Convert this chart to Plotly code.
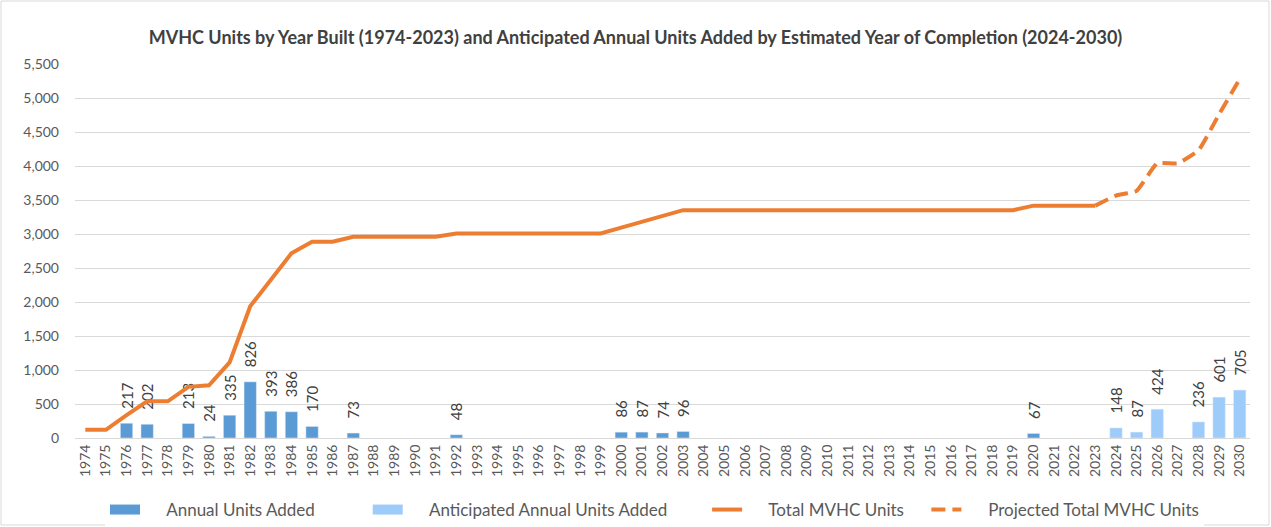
import plotly.graph_objects as go

years = [str(y) for y in range(1974, 2031)]

annual_years = ["1976", "1977", "1979", "1980", "1981", "1982", "1983", "1984", "1985",
                "1987", "1992", "2000", "2001", "2002", "2003", "2020"]
annual_units = [217, 202, 213, 24, 335, 826, 393, 386, 170, 73, 48, 86, 87, 74, 96, 67]

anticip_years = ["2024", "2025", "2026", "2028", "2029", "2030"]
anticip_units = [148, 87, 424, 236, 601, 705]

total_years = [str(y) for y in range(1974, 2024)]
total_units = [120, 120, 337, 539, 539, 752, 776, 1111, 1937, 2330,
               2716, 2886, 2886, 2959, 2959, 2959, 2959, 2959, 3007, 3007,
               3007, 3007, 3007, 3007, 3007, 3007, 3093, 3180, 3254, 3350,
               3350, 3350, 3350, 3350, 3350, 3350, 3350, 3350, 3350, 3350,
               3350, 3350, 3350, 3350, 3350, 3350, 3417, 3417, 3417, 3417]

proj_years = [str(y) for y in range(2023, 2031)]
proj_units = [3417, 3565, 3635, 4040, 4040, 4230, 4760, 5280]

title_text = ("MVHC Units by Year Built (1974-2023) and Anticipated Annual Units Added "
              "by Estimated Year of Completion (2024-2030)")

FONT = "Lato"
GRAY = "#595959"
BLUE = "#5B9BD5"
LIGHT = "#9DCBFA"
ORANGE = "#ED7D31"
PAD = "\u00a0\u00a0\u00a0"
NB = "\u00a0"


def leg(name, trail):
    return NB * 5 + name + NB * trail


fig = go.Figure()
fig.add_trace(go.Bar(
    x=annual_years, y=annual_units, name="Annual Units Added", showlegend=False,
    marker=dict(color=BLUE), width=0.6,
    text=[PAD + str(v) for v in annual_units], textposition="outside", textangle=-90,
    constraintext="none",
    textfont=dict(size=15, color="#404040", family=FONT), cliponaxis=False,
))
fig.add_trace(go.Bar(
    x=anticip_years, y=anticip_units, name="Anticipated Annual Units Added", showlegend=False,
    marker=dict(color=LIGHT), width=0.6,
    text=[PAD + str(v) for v in anticip_units], textposition="outside", textangle=-90,
    constraintext="none",
    textfont=dict(size=15, color="#404040", family=FONT), cliponaxis=False,
))
# legend-only entries (wide swatches like the reference)
fig.add_trace(go.Scatter(x=[None], y=[None], mode="lines", name=leg("Annual Units Added", 11),
                         line=dict(color=BLUE, width=10)))
fig.add_trace(go.Scatter(x=[None], y=[None], mode="lines",
                         name=leg("Anticipated Annual Units Added", 8),
                         line=dict(color=LIGHT, width=10)))
fig.add_trace(go.Scatter(
    x=total_years, y=total_units, name=leg("Total MVHC Units", 4), mode="lines",
    line=dict(color=ORANGE, width=4),
))
fig.add_trace(go.Scatter(
    x=proj_years, y=proj_units, name=leg("Projected Total MVHC Units", 0), mode="lines",
    line=dict(color=ORANGE, width=4, dash="14px,7px", shape="spline", smoothing=0.4),
))

W, H = 1271, 527
L, R, T, B = 75, 21, 64, 89
pw, ph = W - L - R, H - T - B

fig.update_layout(
    width=W, height=H,
    margin=dict(l=L, r=R, t=T, b=B),
    paper_bgcolor="white", plot_bgcolor="white",
    barmode="overlay",
    font=dict(family=FONT, color=GRAY, size=14),
    title=dict(text="<b>" + title_text + "</b>", x=0.5, xanchor="center",
               y=1 - 38 / H, yanchor="middle",
               font=dict(size=18, color="#404040", family=FONT)),
    legend=dict(orientation="h", xref="container", yref="container",
                x=105 / W, xanchor="left", y=1 - 510 / H, yanchor="middle",
                font=dict(size=17, color=GRAY, family=FONT), tracegroupgap=0),
    showlegend=True,
    shapes=[dict(type="rect", xref="paper", yref="paper",
                 x0=(1 - L) / pw, x1=(W - 2 - L) / pw,
                 y0=-(B - 2) / ph, y1=(T - 1) / ph + 1,
                 line=dict(color="#D9D9D9", width=1), layer="below")],
)
fig.update_xaxes(
    type="category", categoryorder="array", categoryarray=years,
    range=[-0.5, len(years) - 0.5], tickangle=-90,
    tickfont=dict(size=14, color=GRAY), showgrid=False, automargin=False,
    showline=True, linecolor="#D9D9D9", linewidth=1, ticks="",
)
fig.update_yaxes(
    range=[0, 5500], dtick=500, tickformat=",", showgrid=True, automargin=False,
    gridcolor="#D9D9D9", gridwidth=1, zeroline=False, showline=False,
    tickfont=dict(size=14, color=GRAY), ticklabelstandoff=15,
)

fig.write_html("out.html", config={"displayModeBar": False},
               post_script="document.body.style.margin='0';document.body.style.overflow='hidden';")
